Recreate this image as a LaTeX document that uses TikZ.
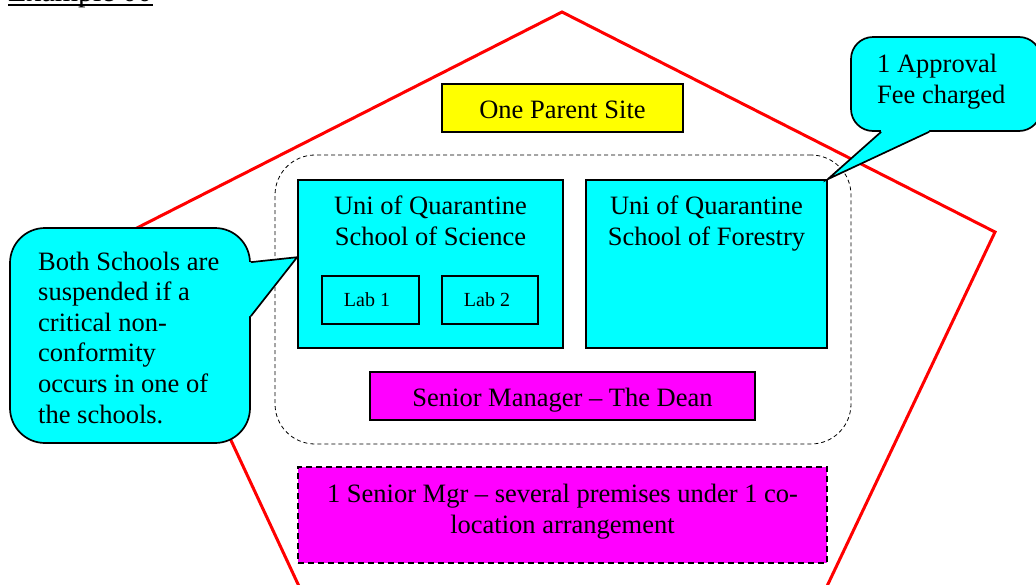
\documentclass[tikz,border=0pt]{standalone}
\usepackage{fontspec}
\setmainfont{Liberation Serif}
\usetikzlibrary{calc}
\definecolor{cy}{RGB}{0,255,255}
\definecolor{mg}{RGB}{255,0,255}
\definecolor{yl}{RGB}{255,255,0}
\definecolor{rd}{RGB}{255,0,0}
\tikzset{
  box/.style={draw=black, line width=1.7pt, inner sep=0pt},
  txt/.style={font=\fontsize{26.5}{30.6}\selectfont, align=center, inner sep=0pt},
  smalltxt/.style={font=\fontsize{20}{24}\selectfont, inner sep=0pt},
  callout/.style={draw=black, line width=1.7pt, fill=cy, inner sep=0pt},
  penta/.style={draw=rd, line width=3pt, line join=miter},
  pointer/.style={draw=black, line width=1.7pt, line join=miter},
}
\begin{document}
\begin{tikzpicture}[x=1pt,y=-1pt]
\clip (0,0) rectangle (1036,584);
\fill[white] (0,0) rectangle (1036,584);
% title
\node[font=\fontsize{30}{34}\selectfont, inner sep=0pt, anchor=base west] (ex) at (8,1) {Example 00};
\draw[line width=1.6pt] ([yshift=-4pt]ex.base west) -- ([yshift=-4pt]ex.base east);
% pentagon
\coordinate (pA) at (352,700);
\coordinate (pB) at (133,230);
\coordinate (pC) at (562,12);
\coordinate (pD) at (995,232);
\coordinate (pE) at (773,700);
\draw[penta] (pA) -- (pB) -- (pC) -- (pD) -- (pE);
% group
\node[draw=black, line width=0.8pt, dash pattern=on 4pt off 3pt, rounded corners=40pt,
      minimum width=576, minimum height=289, inner sep=0pt] (grp) at (563,299.5) {};
% parent site
\node[box, fill=yl, minimum width=241, minimum height=48] (site) at (562.5,108) {};
\node[txt, anchor=base] (sitet) at (562.5,118) {One Parent Site};
% science
\node[box, fill=cy, minimum width=265, minimum height=168] (sci) at (430.5,264) {};
\node[txt, anchor=base] (scit) at (430.5,245) {Uni of Quarantine\\School of Science};
\node[box, line width=1.4pt, minimum width=97, minimum height=48] (lab1) at (370.5,300) {};
\node[smalltxt, anchor=base] (lab1t) at (367,306) {Lab 1};
\node[box, line width=1.4pt, minimum width=96, minimum height=48] (lab2) at (490,300) {};
\node[smalltxt, anchor=base] (lab2t) at (487,306) {Lab 2};
% forestry
\node[box, fill=cy, minimum width=241, minimum height=168] (fore) at (706.5,264) {};
\node[txt, anchor=base] (foret) at (706.5,245) {Uni of Quarantine\\School of Forestry};
% dean
\node[box, fill=mg, minimum width=385, minimum height=48] (dean) at (562.5,396) {};
\node[txt, anchor=base] (deant) at (562.5,406) {Senior Manager -- The Dean};
% bottom
\node[box, fill=mg, dash pattern=on 6pt off 4pt, minimum width=529, minimum height=96] (mgr) at (562.5,515) {};
\node[txt, anchor=base] (mgrt) at (562.5,533) {1 Senior Mgr -- several premises under 1 co-\\location arrangement};
% fee callout
\node[callout, rounded corners=22pt, minimum width=190, minimum height=94] (fee) at (946,84) {};
\coordinate (feeA) at ([xshift=31pt]fee.south west);
\coordinate (feeB) at ([xshift=79pt]fee.south west);
\fill[cy] (feeA) -- (fore.north east) -- (feeB) -- ([yshift=5pt]feeB) -- ([yshift=5pt]feeA) -- cycle;
\draw[pointer] (feeA) -- (fore.north east) -- (feeB);
\node[txt, anchor=base west, align=left] (feet) at (877,103) {1 Approval\\Fee charged};
% left callout
\node[callout, rounded corners=35pt, minimum width=240, minimum height=215] (cl) at (130,335.5) {};
\coordinate (clA) at ([yshift=-35pt]cl.north east);
\coordinate (clB) at ([yshift=-89pt]cl.north east);
\coordinate (clT) at ($(sci.north west)!0.46!(sci.south west)$);
\fill[cy] (clA) -- (clT) -- (clB) -- ([xshift=-5pt]clB) -- ([xshift=-5pt]clA) -- cycle;
\draw[pointer] (clA) -- (clT) -- (clB);
\node[txt, anchor=base west, align=left] (clt) at (38,423) {Both Schools are\\suspended if a\\critical non-\\conformity\\occurs in one of\\the schools.};
\end{tikzpicture}
\end{document}
